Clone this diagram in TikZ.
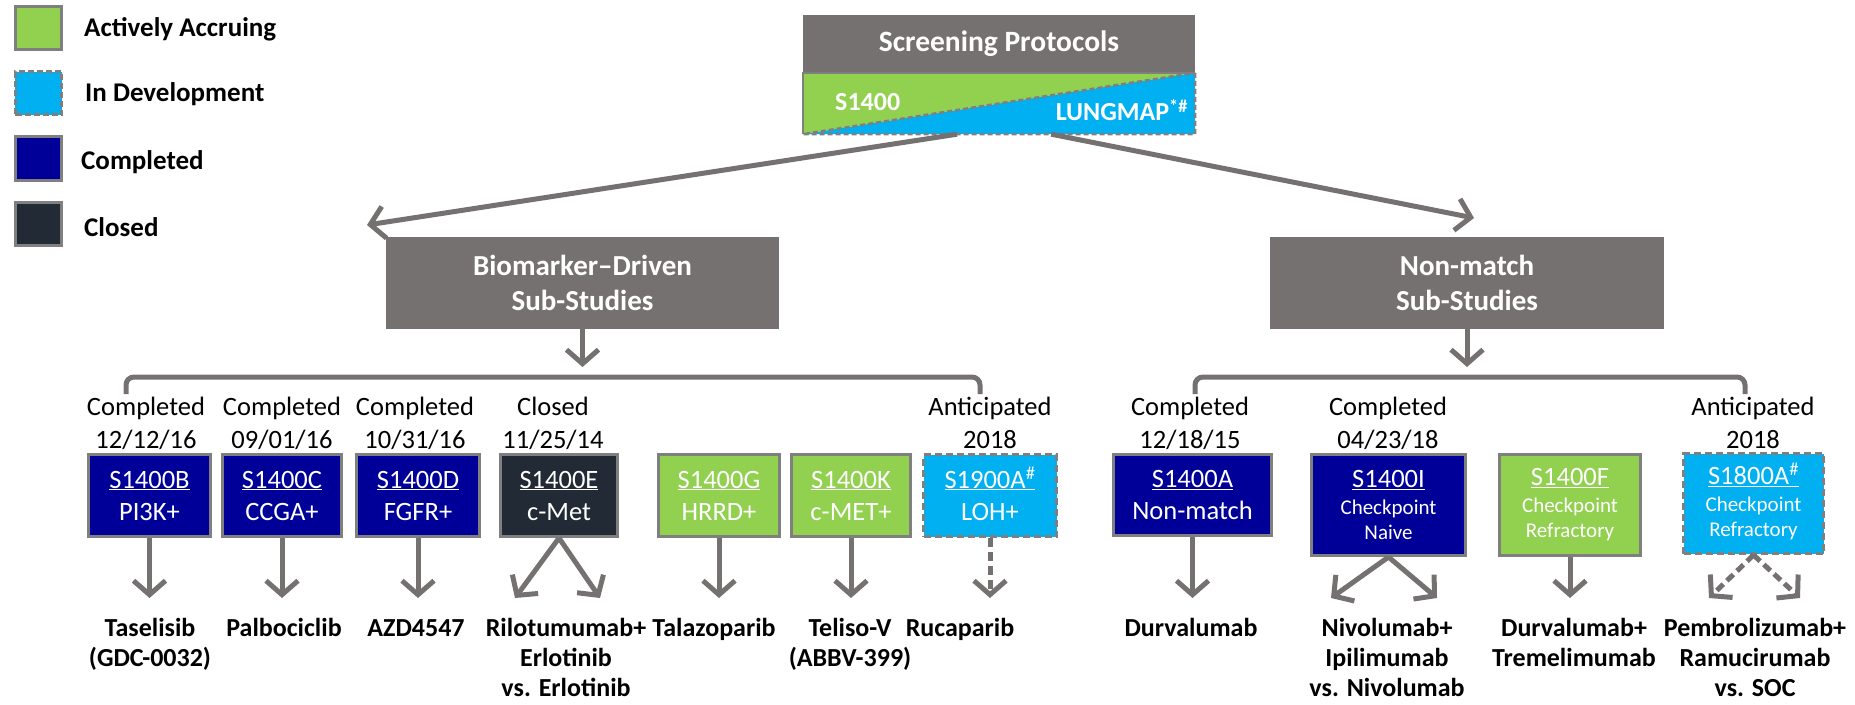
\documentclass[tikz,border=0pt]{standalone}
\usepackage{fontspec}
\setmainfont{Carlito}
\usetikzlibrary{arrows.meta,calc}
\definecolor{cGreen}{HTML}{92D050}
\definecolor{cBlue}{HTML}{00B0F0}
\definecolor{cNavy}{HTML}{000099}
\definecolor{cClosed}{HTML}{222A35}
\definecolor{cHead}{HTML}{767171}
\definecolor{cBorder}{HTML}{7F7F7F}
\tikzset{
  fBox/.style={font=\fontsize{26.5bp}{32bp}\selectfont},
  fSmall/.style={font=\fontsize{21bp}{25bp}\selectfont},
  stud/.style={draw=cBorder, line width=3bp, text=white, align=center, inner sep=0pt, fBox},
  donebox/.style={stud, fill=cNavy},
  closedbox/.style={stud, fill=cClosed},
  activebox/.style={stud, fill=cGreen},
  devbox/.style={stud, fill=cBlue, dash pattern=on 7bp off 4bp},
  headbox/.style={fill=cHead, text=white, align=center, inner sep=0pt, font=\fontsize{29bp}{35bp}\selectfont\bfseries},
  lbl/.style={align=center, anchor=base, inner sep=0pt, font=\fontsize{26.5bp}{32.5bp}\selectfont},
  drug/.style={align=center, anchor=base, inner sep=0pt, font=\fontsize{26bp}{30bp}\selectfont\bfseries},
  arr/.style={draw=cHead, line width=5bp, -{Straight Barb[length=14bp,width=32bp]}},
  darr/.style={arr, dash pattern=on 9bp off 5bp},
  brk/.style={draw=cHead, line width=5bp, rounded corners=8bp},
  legsq/.style={draw=cBorder, line width=3bp, minimum width=46bp, minimum height=43bp, inner sep=0pt},
  legtxt/.style={anchor=west, inner sep=0pt, font=\fontsize{27bp}{32bp}\selectfont\bfseries}
}
\begin{document}
\begin{tikzpicture}[x=1bp, y=-1bp]
\useasboundingbox (0,0) rectangle (1855,705);

% legend
\node[legsq, fill=cGreen] (lg1) at (38.5,28) {};
\node[legsq, fill=cBlue, dash pattern=on 6bp off 3bp] (lg2) at (38.5,93.5) {};
\node[legsq, fill=cNavy] (lg3) at (38.5,158.5) {};
\node[legsq, fill=cClosed] (lg4) at (38.5,223.5) {};
\node[legtxt] (lt1) at (84,29) {Actively Accruing};
\node[legtxt] (lt2) at (85,94) {In Development};
\node[legtxt] (lt3) at (81,162) {Completed};
\node[legtxt] (lt4) at (84,227) {Closed};

% screening protocols
\node[headbox, minimum width=392bp, minimum height=57bp, font=\fontsize{29.5bp}{34bp}\selectfont\bfseries] (scr) at (999,43.5) {Screening Protocols};
\node[minimum width=392bp, minimum height=61bp, inner sep=0pt] (lung) at (999,103.5) {};
\fill[cGreen] (lung.north west) -- (lung.north east) -- (lung.south west) -- cycle;
\fill[cBlue] (lung.north east) -- (lung.south east) -- (lung.south west) -- cycle;
\draw[cBorder, line width=2.5bp] (lung.south west) -- (lung.north west) -- (lung.north east);
\draw[cBorder, line width=2.5bp, dash pattern=on 5bp off 3bp] (lung.north east) -- (lung.south east) -- (lung.south west) -- cycle;
\node[anchor=base west, inner sep=0pt, text=white, font=\fontsize{26bp}{30bp}\selectfont\bfseries] (s1400) at (835,111) {S1400};
\node[anchor=base east, inner sep=0pt, text=white, font=\fontsize{26bp}{30bp}\selectfont\bfseries] (lmap) at (1188,121) {LUNGMAP\textsuperscript{*\#}};

% sub-study headers
\node[headbox, minimum width=393bp, minimum height=92bp] (bio) at (582.5,283) {Biomarker–Driven\\Sub-Studies};
\node[headbox, minimum width=394bp, minimum height=92bp] (nm) at (1467,283) {Non-match\\Sub-Studies};

\coordinate (tipL) at (367,225);
\coordinate (tipR) at (1474,218);
\draw[arr] ($(lung.south west)!0.393!(lung.south east)$) -- (tipL);
\draw[arr] ($(lung.south west)!0.633!(lung.south east)$) -- (tipR);

\coordinate (bioTip) at (582.5,367);
\coordinate (nmTip) at (1467,367);
\draw[arr] (bio.south) -- (bioTip);
\draw[arr] (nm.south) -- (nmTip);

% brackets
\coordinate (bl1) at (126,394);
\coordinate (bl2) at (126,377);
\coordinate (bl3) at (980,377);
\coordinate (bl4) at (980,394);
\draw[brk] (bl1) -- (bl2) -- (bl3) -- (bl4);
\coordinate (br1) at (1195,394);
\coordinate (br2) at (1195,377);
\coordinate (br3) at (1745,377);
\coordinate (br4) at (1745,394);
\draw[brk] (br1) -- (br2) -- (br3) -- (br4);

% labels above boxes (anchor = baseline of last line)
\node[lbl] (lB) at (146,448) {Completed\\12/12/16};
\node[lbl] (lC) at (282,448) {Completed\\09/01/16};
\node[lbl] (lD) at (415,448) {Completed\\10/31/16};
\node[lbl] (lE) at (553,448) {Closed\\11/25/14};
\node[lbl] (l19) at (990,448) {Anticipated\\2018};
\node[lbl] (lA) at (1190,448) {Completed\\12/18/15};
\node[lbl] (lI) at (1388,448) {Completed\\04/23/18};
\node[lbl] (l18) at (1753,448) {Anticipated\\2018};

% sub-study boxes
\node[donebox, minimum width=122bp, minimum height=82bp] (sB) at (149.5,495.5) {\underline{S1400B}\\PI3K+};
\node[donebox, minimum width=119bp, minimum height=82bp] (sC) at (282,495.5) {\underline{S1400C}\\CCGA+};
\node[donebox, minimum width=123bp, minimum height=82bp] (sD) at (418,495.5) {\underline{S1400D}\\FGFR+};
\node[closedbox, minimum width=117bp, minimum height=82bp] (sE) at (559,495.5) {\underline{S1400E}\\c-Met};
\node[activebox, minimum width=121bp, minimum height=82bp] (sG) at (719,495.5) {\underline{S1400G}\\HRRD+};
\node[activebox, minimum width=119bp, minimum height=82bp] (sK) at (851,495.5) {\underline{S1400K}\\c-MET+};
\node[devbox, minimum width=133bp, minimum height=82bp] (s19) at (990,495.5) {\underline{S1900A\smash{\textsuperscript{\#}}}\\LOH+};
\node[donebox, minimum width=158bp, minimum height=81bp] (sA) at (1192.5,495) {\underline{S1400A}\\Non-match};
\node[donebox, fSmall, minimum width=154bp, minimum height=101bp] (sI) at (1388.5,505) {{\fontsize{26.5bp}{26.5bp}\selectfont\underline{S1400I}}\\[2bp]Checkpoint\\Naive};
\node[activebox, fSmall, minimum width=141bp, minimum height=101bp] (sF) at (1570,505) {{\fontsize{26.5bp}{26.5bp}\selectfont\underline{S1400F}}\\[2bp]Checkpoint\\Refractory};
\node[devbox, fSmall, minimum width=140bp, minimum height=100bp] (s18) at (1753.5,503.5) {{\fontsize{26.5bp}{26.5bp}\selectfont\underline{S1800A\smash{\textsuperscript{\#}}}}\\[2bp]Checkpoint\\Refractory};

% arrow tips
\coordinate (tB) at (149.5,598);
\coordinate (tC) at (282,598);
\coordinate (tD) at (418,598);
\coordinate (tE1) at (515,598);
\coordinate (tE2) at (600,598);
\coordinate (tG) at (719,598);
\coordinate (tK) at (851,598);
\coordinate (t19) at (990,598);
\coordinate (tA) at (1192.5,598);
\coordinate (tI1) at (1331,598);
\coordinate (tI2) at (1437,598);
\coordinate (tF) at (1570,598);
\coordinate (t181) at (1709,598);
\coordinate (t182) at (1800,598);

\draw[arr] (sB.south) -- (tB);
\draw[arr] (sC.south) -- (tC);
\draw[arr] (sD.south) -- (tD);
\draw[arr] (sE.south) -- (tE1);
\draw[arr] (sE.south) -- (tE2);
\draw[arr] (sG.south) -- (tG);
\draw[arr] (sK.south) -- (tK);
\draw[darr] (s19.south) -- (t19);
\draw[arr] (sA.south) -- (tA);
\draw[arr] (sI.south) -- (tI1);
\draw[arr] (sI.south) -- (tI2);
\draw[arr] (sF.south) -- (tF);
\draw[darr] (s18.south) -- (t181);
\draw[darr] (s18.south) -- (t182);

% drugs (anchor = baseline of last line)
\node[drug] (dB) at (150,666) {Taselisib\\(GDC-0032)};
\node[drug] (dC) at (284,636) {Palbociclib};
\node[drug] (dD) at (416,636) {AZD4547};
\node[drug] (dE) at (566,696) {Rilotumumab+\\Erlotinib\\vs. Erlotinib};
\node[drug] (dG) at (714,636) {Talazoparib};
\node[drug] (dK) at (850,666) {Teliso-V\\(ABBV-399)};
\node[drug] (d19) at (960,636) {Rucaparib};
\node[drug] (dA) at (1191,636) {Durvalumab};
\node[drug] (dI) at (1387,696) {Nivolumab+\\Ipilimumab\\vs. Nivolumab};
\node[drug] (dF) at (1574,666) {Durvalumab+\\Tremelimumab};
\node[drug] (d18) at (1755,696) {Pembrolizumab+\\Ramucirumab\\vs. SOC};
\end{tikzpicture}
\end{document}
